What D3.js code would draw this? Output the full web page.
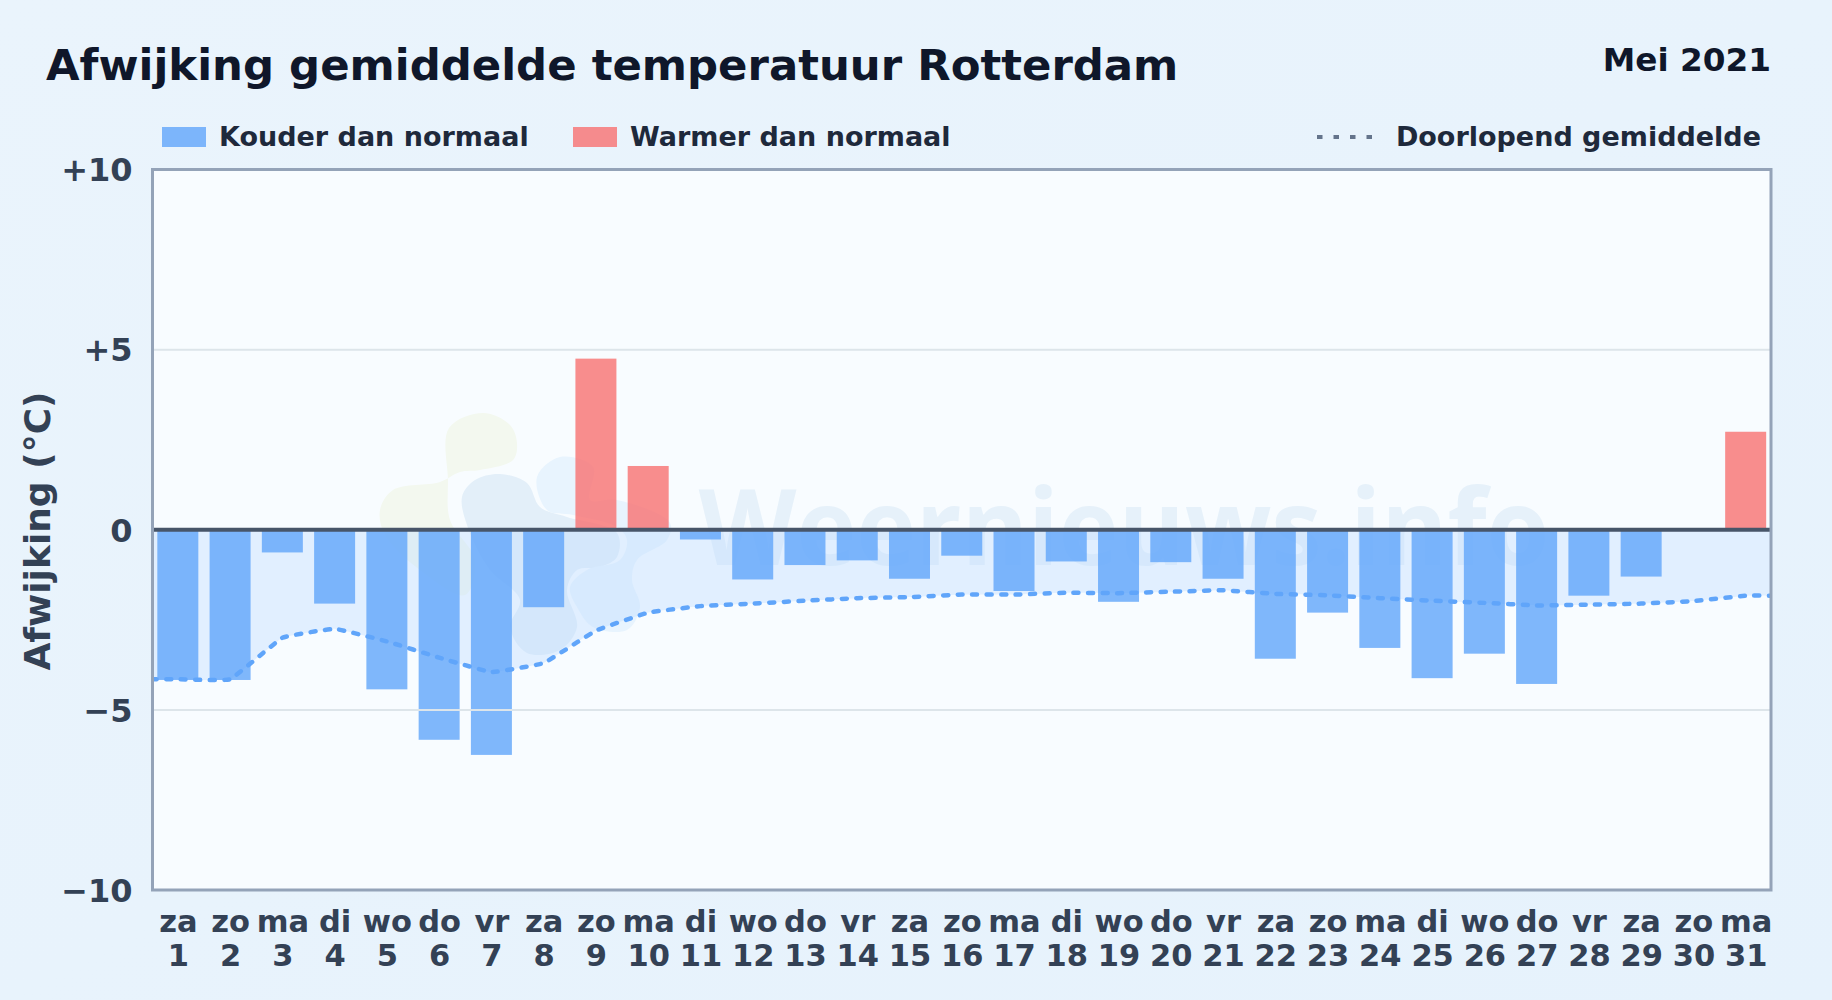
<!DOCTYPE html>
<html>
<head>
<meta charset="utf-8">
<script src="https://cdn.jsdelivr.net/npm/d3@7"></script>
<style>
  html, body { margin: 0; padding: 0; background: #e8f3fc; }
  svg { display: block; font-family: "DejaVu Sans", sans-serif; font-weight: bold; }
</style>
</head>
<body>
<svg></svg>
<script>
const weekdays = ['za','zo','ma','di','wo','do','vr','za','zo','ma','di','wo','do','vr','za','zo','ma','di','wo','do','vr','za','zo','ma','di','wo','do','vr','za','zo','ma'];
const days = d3.range(1, 32);
const deviation = [-4.17,-4.17,-0.63,-2.05,-4.43,-5.83,-6.25,-2.15,4.75,1.77,-0.27,-1.38,-0.98,-0.85,-1.36,-0.72,-1.7,-0.88,-2.0,-0.9,-1.36,-3.58,-2.3,-3.28,-4.12,-3.44,-4.28,-1.83,-1.3,0,2.72];
const runningMean = [-4.15,-4.15,-3.0,-2.75,-3.1,-3.55,-3.95,-3.7,-2.8,-2.3,-2.12,-2.05,-1.97,-1.9,-1.87,-1.8,-1.8,-1.75,-1.76,-1.72,-1.68,-1.78,-1.82,-1.9,-1.97,-2.03,-2.1,-2.08,-2.05,-1.98,-1.83];
const yTicks = [-10, -5, 0, 5, 10];
const gridTicks = [-5, 5];

const width = 1832;
const height = 1000;
const plotLeft = 152.5, plotRight = 1771, plotTop = 169.5, plotBottom = 890;

const svg = d3.select('svg').attr('width', width).attr('height', height);

const defs = svg.append('defs');
const bg = defs.append('linearGradient').attr('id', 'bg').attr('x1', 0).attr('y1', 0).attr('x2', 1).attr('y2', 1);
bg.append('stop').attr('offset', '0%').attr('stop-color', '#eaf4fc');
bg.append('stop').attr('offset', '100%').attr('stop-color', '#e6f2fc');
defs.append('clipPath').attr('id', 'plot').append('rect')
  .attr('x', plotLeft).attr('y', plotTop).attr('width', plotRight - plotLeft).attr('height', plotBottom - plotTop);

svg.append('rect').attr('width', width).attr('height', height).attr('fill', 'url(#bg)');

const xp = d3.scalePoint().domain(days).range([151.7, 1771.8]).padding(0.5);
const barWidth = 41;
const y = d3.scaleLinear().domain([-10, 10]).range([plotBottom, plotTop]);

svg.append('rect').attr('x', plotLeft).attr('y', plotTop).attr('width', plotRight - plotLeft).attr('height', plotBottom - plotTop)
  .attr('fill', '#f8fcff');

// watermark logo + name
const blobLine = d3.line().curve(d3.curveCatmullRomClosed.alpha(0.5));
const blobs = [
  ['#f3f8ef', [[449,428],[483,413],[510,425],[517,443],[513,460],[480,470],[460,472],[440,482],[393,490],[380,510],[385,535],[420,570],[465,595],[475,560],[450,520],[448,480]]],
  ['#e3eff9', [[462,497],[475,480],[500,474],[527,483],[540,507],[567,517],[617,533],[617,557],[600,567],[577,570],[567,590],[577,627],[560,650],[527,653],[510,627],[520,600],[490,570],[470,533]]],
  ['#e8f4fe', [[537,477],[560,457],[593,467],[590,500],[617,500],[670,523],[667,540],[637,560],[632,580],[640,607],[627,630],[593,627],[577,607],[570,587],[587,570],[620,560],[627,540],[617,527],[573,515],[547,510]]]
];
const mark = svg.append('g').attr('clip-path', 'url(#plot)');
mark.selectAll('path').data(blobs).enter().append('path').attr('fill', d => d[0]).attr('d', d => blobLine(d[1]));
mark.append('text').attr('transform', 'translate(1124,565) scale(1,1.05)').attr('text-anchor', 'middle')
  .attr('font-family', '"Open Sans", sans-serif').attr('font-size', 101).attr('fill', '#e6f1fa')
  .text('Weernieuws.info');

// running mean band
const band = [{ d: 0.5, v: runningMean[0] }]
  .concat(days.map((d, i) => ({ d, v: runningMean[i] })))
  .concat([{ d: 31.5, v: runningMean[30] }]);
const xDay = d3.scaleLinear().domain([1, 31]).range([xp(1), xp(31)]);
const smooth = d3.curveCardinal.tension(0.75);

svg.append('path').datum(band)
  .attr('clip-path', 'url(#plot)')
  .attr('fill', '#bfdbfe').attr('fill-opacity', 0.4)
  .attr('d', d3.area().x(d => xDay(d.d)).y0(y(0)).y1(d => y(d.v)).curve(smooth));

svg.selectAll('rect.bar').data(days).enter().append('rect')
  .attr('class', 'bar')
  .attr('x', d => xp(d) - barWidth / 2)
  .attr('width', barWidth)
  .attr('y', (d, i) => y(Math.max(0, deviation[i])))
  .attr('height', (d, i) => Math.abs(y(deviation[i]) - y(0)))
  .attr('fill', (d, i) => deviation[i] < 0 ? '#60a5fa' : '#f87171')
  .attr('fill-opacity', 0.8);

svg.append('path').datum(band)
  .attr('clip-path', 'url(#plot)')
  .attr('fill', 'none').attr('stroke', '#60a5fa').attr('stroke-width', 4.5)
  .attr('stroke-dasharray', '5 9.5').attr('stroke-linecap', 'round')
  .attr('d', d3.line().x(d => xDay(d.d)).y(d => y(d.v)).curve(smooth));

// grid, frame, zero line
svg.selectAll('line.grid').data(gridTicks).enter().append('line')
  .attr('x1', plotLeft).attr('x2', plotRight).attr('y1', d => y(d)).attr('y2', d => y(d))
  .attr('stroke', '#dde5ea').attr('stroke-width', 2);
svg.append('line').attr('x1', plotLeft).attr('x2', plotRight).attr('y1', y(0)).attr('y2', y(0))
  .attr('stroke', '#475569').attr('stroke-width', 4);
svg.append('rect').attr('x', plotLeft).attr('y', plotTop).attr('width', plotRight - plotLeft).attr('height', plotBottom - plotTop)
  .attr('fill', 'none').attr('stroke', '#94a3b8').attr('stroke-width', 3);

// axes
const fmt = d => d > 0 ? '+' + d : d < 0 ? '\u2212' + (-d) : '0';
const yAxis = svg.append('g').attr('transform', `translate(${plotLeft},1)`)
  .call(d3.axisLeft(y).tickValues(yTicks).tickFormat(fmt).tickSize(0).tickPadding(20));
yAxis.select('.domain').remove();
yAxis.selectAll('text').attr('font-size', 32).attr('fill', '#334155').attr('font-family', '"DejaVu Sans"');

const xAxis = svg.append('g').attr('transform', `translate(0,${plotBottom})`)
  .call(d3.axisBottom(xp).tickSize(0).tickFormat(''));
xAxis.select('.domain').remove();
xAxis.selectAll('text').each(function (d, i) {
  const t = d3.select(this).attr('y', 0).attr('dy', null)
    .attr('font-size', 30.5).attr('fill', '#334155').attr('font-family', '"DejaVu Sans"');
  t.append('tspan').attr('x', 0).attr('y', 42).text(weekdays[i]);
  t.append('tspan').attr('x', 0).attr('y', 76).text(d);
});

svg.append('text').attr('transform', `translate(50,531) rotate(-90)`).attr('text-anchor', 'middle')
  .attr('font-size', 36).attr('fill', '#334155').text('Afwijking (°C)');

// titles
svg.append('text').attr('x', 46).attr('y', 80).attr('font-size', 43.4).attr('fill', '#0f172a')
  .text('Afwijking gemiddelde temperatuur Rotterdam');
svg.append('text').attr('x', 1771).attr('y', 71).attr('text-anchor', 'end').attr('font-size', 32.7).attr('fill', '#0f172a')
  .text('Mei 2021');

// legend
const legendY = 137;
const legend = [
  { label: 'Kouder dan normaal', color: '#60a5fa', x: 162 },
  { label: 'Warmer dan normaal', color: '#f87171', x: 573 }
];
const items = svg.selectAll('g.legend').data(legend).enter().append('g').attr('class', 'legend')
  .attr('transform', d => `translate(${d.x},${legendY})`);
items.append('rect').attr('y', -10).attr('width', 44).attr('height', 20).attr('fill', d => d.color).attr('fill-opacity', 0.8);
items.append('text').attr('x', 57).attr('y', 9).attr('font-size', 27).attr('fill', '#1e293b').text(d => d.label);
svg.append('line').attr('x1', 1317).attr('x2', 1374).attr('y1', legendY).attr('y2', legendY)
  .attr('stroke', '#64748b').attr('stroke-width', 4).attr('stroke-dasharray', '5.5 11');
svg.append('text').attr('x', 1761).attr('y', legendY + 9).attr('text-anchor', 'end').attr('font-size', 27).attr('fill', '#1e293b')
  .text('Doorlopend gemiddelde');
</script>
</body>
</html>
